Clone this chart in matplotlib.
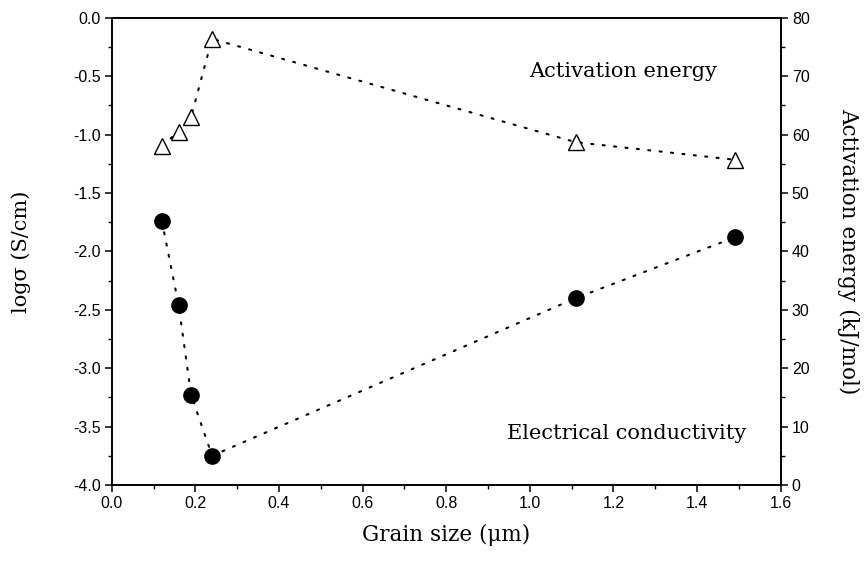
import numpy as np
import matplotlib
matplotlib.use('Agg')
import matplotlib.pyplot as plt
from matplotlib.ticker import MultipleLocator

# grain size in um
grain_size = [0.12, 0.16, 0.19, 0.24, 1.11, 1.49]
# log conductivity (S/cm)
log_sigma = [-1.74, -2.46, -3.23, -3.75, -2.40, -1.88]
# activation energy (kJ/mol)
act_energy = [58.1, 60.5, 63.1, 76.4, 58.7, 55.7]

serif = 'DejaVu Serif'
sans = 'Liberation Sans'

fig = plt.figure(figsize=(8.64, 5.64), dpi=100)
ax = fig.add_axes([0.1293, 0.1401, 0.7743, 0.8283])
ax2 = ax.twinx()

dots = dict(color='black', linestyle=(0, (1, 4.5)), linewidth=1.5,
            dash_capstyle='round')
ax.plot(grain_size, log_sigma, marker='o', markersize=11,
        markerfacecolor='black', markeredgecolor='black', **dots)
ax2.plot(grain_size, act_energy, marker='^', markersize=12,
         markerfacecolor='white', markeredgecolor='black',
         markeredgewidth=1.0, **dots)

ax.set_xlim(0, 1.6)
ax.set_ylim(-4.0, 0.0)
ax2.set_ylim(0, 80)

ax.xaxis.set_major_locator(MultipleLocator(0.2))
ax.xaxis.set_minor_locator(MultipleLocator(0.1))
ax.yaxis.set_major_locator(MultipleLocator(0.5))
ax.yaxis.set_minor_locator(MultipleLocator(0.25))
ax2.yaxis.set_major_locator(MultipleLocator(10))
ax2.yaxis.set_minor_locator(MultipleLocator(5))

for a in (ax, ax2):
    a.tick_params(which='major', direction='out', length=5, width=1.1,
                  labelsize=11.5, pad=3)
    a.tick_params(which='minor', direction='out', length=3, width=1.0)
    for s in a.spines.values():
        s.set_linewidth(1.2)
ax.tick_params(top=False, which='both')
ax.xaxis.set_major_formatter(plt.FuncFormatter(lambda v, p: f'{v:.1f}'))
ax.yaxis.set_major_formatter(plt.FuncFormatter(lambda v, p: f'{v:.1f}'))
for lbl in ax.get_xticklabels() + ax.get_yticklabels() + ax2.get_yticklabels():
    lbl.set_fontfamily(sans)

ax.set_xlabel('Grain size (μm)', fontfamily=serif, fontsize=15.5, labelpad=9)
ax.set_ylabel('logσ (S/cm)', fontfamily=serif, fontsize=15, labelpad=30)
ax2.set_ylabel('Activation energy (kJ/mol)', fontfamily=serif, fontsize=15.5,
               rotation=270, labelpad=36)

ax.text(0.764, 0.885, 'Activation energy', transform=ax.transAxes,
        ha='center', va='center', fontfamily=serif, fontsize=15)
ax.text(0.770, 0.111, 'Electrical conductivity', transform=ax.transAxes,
        ha='center', va='center', fontfamily=serif, fontsize=15)

fig.savefig('out.png', dpi=100)
